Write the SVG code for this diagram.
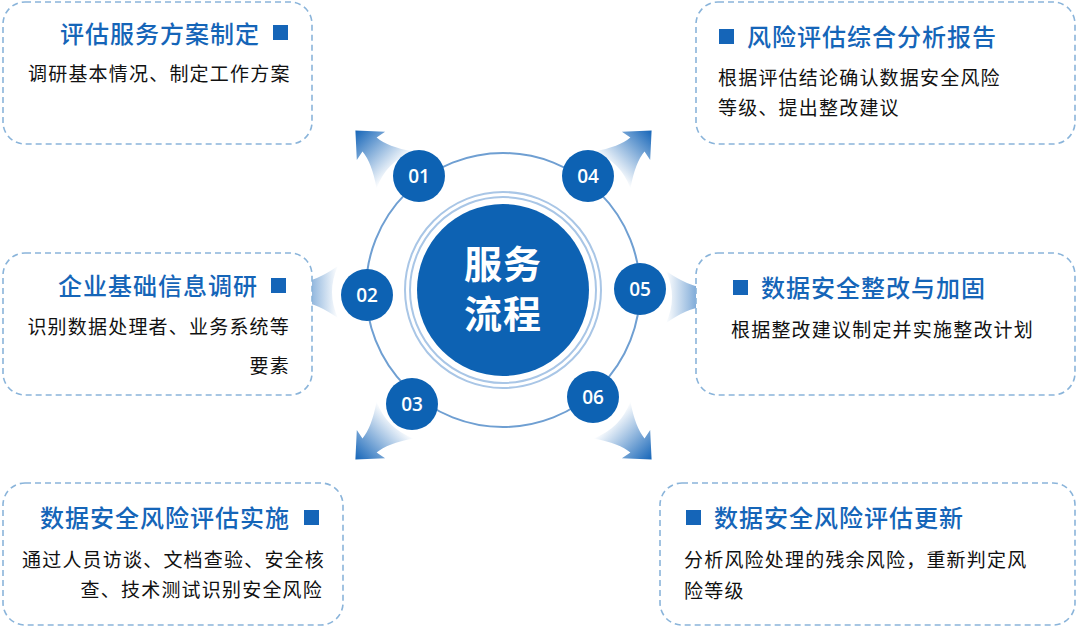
<svg xmlns="http://www.w3.org/2000/svg" width="1080" height="627" viewBox="0 0 1080 627">
<defs>
<linearGradient id="ag" x1="0" y1="0" x2="1" y2="0"><stop offset="0" stop-color="#1565b8" stop-opacity="0"/><stop offset="1" stop-color="#1565b8"/></linearGradient>
<path id="arr" d="M0,-26 Q22,-11 36,-10 L34,-20 L56,0 L34,20 L36,10 Q22,11 0,26 Q12,0 0,-26 Z" fill="url(#ag)"/>
<style>
.box{fill:#fff;stroke:#8ab4da;stroke-width:1.6;stroke-dasharray:6 4}
.t{font-family:"Noto Sans CJK SC",sans-serif;font-size:24px;fill:#1565b8;font-weight:500;letter-spacing:1px}
.d{font-family:"Noto Sans CJK SC",sans-serif;font-size:19px;fill:#111;letter-spacing:1.2px}
.sq{fill:#1565b8}
.n{fill:#0d62b3}
.nt{font-family:"Open Sans",sans-serif;font-size:19px;fill:#fff;font-weight:600;text-anchor:middle}
.c{font-family:"Noto Sans CJK SC",sans-serif;font-size:38px;font-weight:700;fill:#fff;text-anchor:middle;letter-spacing:1px}
</style>
</defs>
<rect width="1080" height="627" fill="#fff"/>
<g id="connectors">
<use href="#arr" transform="translate(395,170) rotate(-135)"/>
<use href="#arr" transform="translate(612,170) rotate(-45)"/>
<use href="#arr" transform="translate(338,292) rotate(180)"/>
<use href="#arr" transform="translate(666,297)"/>
<use href="#arr" transform="translate(395,420) rotate(135)"/>
<use href="#arr" transform="translate(612,420) rotate(45)"/>
</g>
<g id="center">
<circle cx="503" cy="290" r="137" fill="none" stroke="#6f9fd2" stroke-width="2"/>
<circle cx="503" cy="290" r="98" fill="none" stroke="#a9c6e6" stroke-width="2"/>
<circle cx="503" cy="290" r="93" fill="none" stroke="#a9c6e6" stroke-width="2"/>
<circle cx="503" cy="290" r="86" class="n"/>
<text x="503" y="278" class="c">服务</text>
<text x="503" y="328" class="c">流程</text>
</g>
<g id="n01"><circle cx="419" cy="176" r="26" class="n"/><text x="419" y="183" class="nt">01</text></g>
<g id="n04"><circle cx="588" cy="176" r="26" class="n"/><text x="588" y="183" class="nt">04</text></g>
<g id="n02"><circle cx="367" cy="295" r="26" class="n"/><text x="367" y="302" class="nt">02</text></g>
<g id="n05"><circle cx="640" cy="289" r="26" class="n"/><text x="640" y="296" class="nt">05</text></g>
<g id="n03"><circle cx="412" cy="404" r="26" class="n"/><text x="412" y="411" class="nt">03</text></g>
<g id="n06"><circle cx="593" cy="397" r="26" class="n"/><text x="593" y="404" class="nt">06</text></g>
<g id="box1"><rect x="3" y="2" width="309" height="142" rx="22" class="box"/><rect x="273" y="25" width="15" height="15" class="sq"/><text x="260" y="43" class="t" text-anchor="end">评估服务方案制定</text><text x="28" y="81" class="d">调研基本情况、制定工作方案</text></g>
<g id="box4"><rect x="696" y="2" width="379" height="142" rx="22" class="box"/><rect x="719" y="29" width="15" height="15" class="sq"/><text x="747" y="46" class="t">风险评估综合分析报告</text><text x="718" y="85" class="d">根据评估结论确认数据安全风险</text><text x="718" y="115" class="d">等级、提出整改建议</text></g>
<g id="box2"><rect x="3" y="253" width="309" height="142" rx="22" class="box"/><rect x="271" y="278" width="15" height="15" class="sq"/><text x="258" y="295" class="t" text-anchor="end">企业基础信息调研</text><text x="290" y="334" class="d" text-anchor="end">识别数据处理者、业务系统等</text><text x="290" y="373" class="d" text-anchor="end">要素</text></g>
<g id="box5"><rect x="696" y="253" width="379" height="142" rx="22" class="box"/><rect x="733" y="280" width="15" height="15" class="sq"/><text x="761" y="297" class="t">数据安全整改与加固</text><text x="731" y="337" class="d">根据整改建议制定并实施整改计划</text></g>
<g id="box3"><rect x="3" y="483" width="340" height="142" rx="22" class="box"/><rect x="304" y="510" width="15" height="15" class="sq"/><text x="290" y="527" class="t" text-anchor="end">数据安全风险评估实施</text><text x="22" y="567" class="d">通过人员访谈、文档查验、安全核</text><text x="323" y="597" class="d" text-anchor="end">查、技术测试识别安全风险</text></g>
<g id="box6"><rect x="660" y="483" width="415" height="142" rx="22" class="box"/><rect x="686" y="510" width="15" height="15" class="sq"/><text x="714" y="527" class="t">数据安全风险评估更新</text><text x="684" y="567" class="d">分析风险处理的残余风险，重新判定风</text><text x="684" y="598" class="d">险等级</text></g>
</svg>
